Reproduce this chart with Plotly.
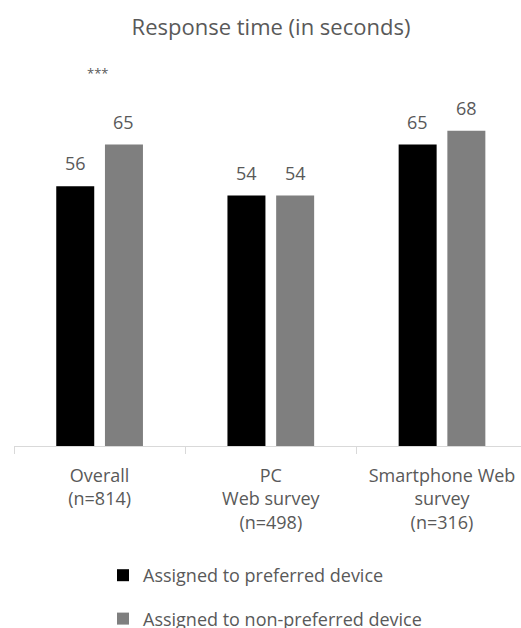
import plotly.graph_objects as go

categories = ["Overall<br>(n=814)", "PC<br>Web survey<br>(n=498)", "Smartphone Web<br>survey<br>(n=316)"]
preferred = [56, 54, 65]
non_preferred = [65, 54, 68]
series_names = ["Assigned to preferred device", "Assigned to non-preferred device"]
significance = ["***", "", ""]

TEXT = "#595959"
AXIS = "#d9d9d9"
FONT = "Open Sans"

W, H = 521, 628
M_L, M_R, M_T, M_B = 14, 0, 60, 182
PX_PER_UNIT = 4.637
CAT_PX = 171.2
BARGAP, GROUPGAP = 0.431, 0.22

pos = list(range(len(categories)))
plot_w = W - M_L - M_R
plot_h = H - M_T - M_B
x_range = [-0.5, -0.5 + plot_w / CAT_PX]

fig = go.Figure()
fig.add_trace(go.Bar(x=pos, y=preferred, name=series_names[0],
                     marker=dict(color="#000000", line=dict(width=0)),
                     legendgroup="a"))
fig.add_trace(go.Bar(x=pos, y=non_preferred, name=series_names[1],
                     marker=dict(color="#7f7f7f", line=dict(width=0)),
                     legendgroup="b"))
# empty carrier so the overlaid label axis gets drawn
fig.add_trace(go.Scatter(x=pos, y=[None] * len(pos), xaxis="x2", yaxis="y",
                         mode="markers", showlegend=False, hoverinfo="skip"))

# value labels above each bar, shifted onto the bar's slot in the group
slot = CAT_PX * (1 - BARGAP) / 2
annotations = []
for vals, shift in ((preferred, -slot / 2), (non_preferred, slot / 2)):
    for p, v in zip(pos, vals):
        annotations.append(dict(x=p, y=v, text=str(v), showarrow=False,
                                xshift=shift, yshift=23, yanchor="middle",
                                font=dict(family=FONT, size=18, color=TEXT)))
for p, s in zip(pos, significance):
    if s:
        annotations.append(dict(x=p, y=80.5, text=s, showarrow=False,
                                xshift=-2, yanchor="middle",
                                font=dict(family=FONT, size=13, color=TEXT)))

fig.update_layout(
    width=W, height=H,
    margin=dict(l=M_L, r=M_R, t=M_T, b=M_B, pad=0, autoexpand=False),
    paper_bgcolor="white", plot_bgcolor="white",
    barmode="group", bargap=BARGAP, bargroupgap=GROUPGAP,
    font=dict(family=FONT, color=TEXT, size=18),
    title=dict(text="Response time (in seconds)", x=271 / W, xanchor="center",
               xref="container", y=1 - 27 / H, yanchor="middle", yref="container",
               font=dict(family=FONT, size=22, color=TEXT)),
    # boundary ticks between the categories
    xaxis=dict(range=x_range, tickvals=[p - 0.5 for p in pos] + [pos[-1] + 0.5],
               ticktext=[""] * (len(pos) + 1),
               showline=True, linecolor=AXIS, linewidth=1,
               ticks="outside", ticklen=7, tickcolor=AXIS, tickwidth=1,
               showgrid=False, zeroline=False),
    # category names centred under each group
    xaxis2=dict(range=x_range, overlaying="x", anchor="y", side="bottom",
                tickvals=pos, ticktext=categories, ticks="",
                showline=False, showgrid=False, zeroline=False,
                ticklabelstandoff=17,
                tickfont=dict(family=FONT, size=18, color=TEXT)),
    yaxis=dict(range=[0, plot_h / PX_PER_UNIT], visible=False),
    showlegend=True,
    legend=dict(orientation="v", x=103 / W, xanchor="left", xref="container",
                y=1 - 557 / H, yanchor="top", yref="container",
                traceorder="grouped", tracegroupgap=17,
                font=dict(family=FONT, size=18, color=TEXT),
                bgcolor="rgba(0,0,0,0)"),
    annotations=annotations,
)

fig.write_html("out.html")
